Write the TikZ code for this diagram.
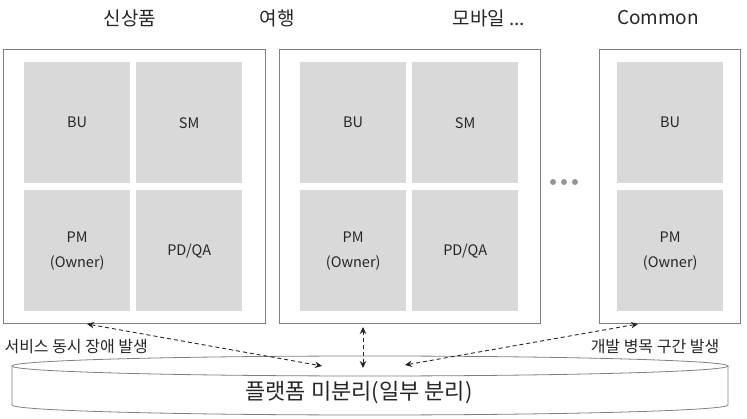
\documentclass[tikz,border=0pt]{standalone}
\usepackage{fontspec}
\setmainfont{Noto Sans CJK KR}
\usetikzlibrary{arrows.meta}
\definecolor{cellgray}{RGB}{217,217,217}
\definecolor{framegray}{RGB}{128,128,128}
\definecolor{dotgray}{RGB}{150,150,150}
\definecolor{inkgray}{RGB}{38,38,38}
\begin{document}
\begin{tikzpicture}[x=1pt,y=-1pt,
  teamBox/.style={rectangle,draw=framegray,line width=1pt,fill=white,anchor=north west,inner sep=0pt,minimum height=274pt},
  cellNode/.style={rectangle,fill=cellgray,anchor=north west,minimum width=106pt,minimum height=121pt,inner sep=0pt,align=center,text=inkgray,font=\fontsize{14.5}{25}\selectfont},
  topLabel/.style={text=inkgray,font=\fontsize{19}{22}\selectfont},
  sideLabel/.style={text=inkgray,font=\fontsize{16}{18}\selectfont},
  link/.style={<->,>={Stealth[length=7pt,width=6.5pt,fill=inkgray]},line width=0.9pt,draw=inkgray,dash pattern=on 4pt off 3pt}]
  \useasboundingbox (0,0) rectangle (747,419);
  % team boxes
  \node[teamBox,minimum width=262pt] (newA) at (3,49) {};
  \node[teamBox,minimum width=261pt] (tripB) at (279,49) {};
  \node[teamBox,minimum width=141pt] (commC) at (599,49) {};
  \node[topLabel] (tA) at (130,18) {신상품};
  \node[topLabel] (tB) at (277,18) {여행};
  \node[topLabel] (tM) at (489,18) {모바일 ...};
  \node[topLabel] (tC) at (658,18) {Common};
  % cells
  \node[cellNode] (aBU) at (24,62) {BU};
  \node[cellNode] (aSM) at (136,62) {SM};
  \node[cellNode] (aPM) at (24,190) {PM\\(Owner)};
  \node[cellNode] (aPD) at (136,190) {PD/QA};
  \node[cellNode] (bBU) at (300,62) {BU};
  \node[cellNode] (bSM) at (412,62) {SM};
  \node[cellNode] (bPM) at (300,190) {PM\\(Owner)};
  \node[cellNode] (bPD) at (412,190) {PD/QA};
  \node[cellNode] (cBU) at (617,62) {BU};
  \node[cellNode] (cPM) at (617,190) {PM\\(Owner)};
  \foreach \x in {553,564,575}
    \fill[dotgray] (\x,182) circle (3);
  % platform
  \draw[framegray,line width=0.8pt] (12,366) arc[start angle=180,end angle=-180,x radius=358,y radius=10];
  \draw[framegray,line width=0.8pt] (12,366) -- (12,405) arc[start angle=180,end angle=0,x radius=358,y radius=10] -- (728,366);
  \node[text=inkgray,font=\fontsize{22}{24}\selectfont] (plat) at (359,393) {플랫폼 미분리(일부 분리)};
  \node[sideLabel,anchor=west] (failTxt) at (1,347) {서비스 동시 장애 발생};
  \node[sideLabel] (slowTxt) at (655,347) {개발 병목 구간 발생};
  % links
  \coordinate (aLow) at (87,324);
  \coordinate (bLow) at (363,327);
  \coordinate (cLow) at (638,324);
  \coordinate (platL) at (322,366);
  \coordinate (platM) at (363,368);
  \coordinate (platR) at (405,365);
  \draw[link] (aLow) -- (platL);
  \draw[link] (bLow) -- (platM);
  \draw[link] (cLow) -- (platR);
\end{tikzpicture}
\end{document}
